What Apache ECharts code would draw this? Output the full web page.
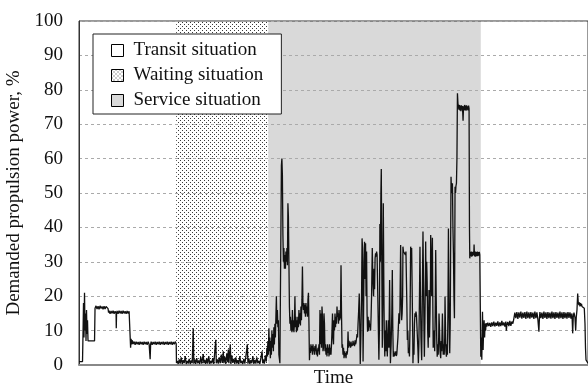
<!DOCTYPE html>
<html>
<head>
<meta charset="utf-8">
<script src="https://cdn.jsdelivr.net/npm/echarts@6.0.0/dist/echarts.min.js"></script>
<style>
  html, body { margin: 0; padding: 0; background: #fff; }
  #chart { width: 588px; height: 387px; }
</style>
</head>
<body>
<div id="chart"></div>
<script>
// time axis in arbitrary units (0 .. 508), power in %
const yTicks = [0, 10, 20, 30, 40, 50, 60, 70, 80, 90, 100];
const situationNames = ['Transit situation', 'Waiting situation', 'Service situation'];
const waitingSpan = [97, 189];
const serviceSpan = [189, 401];

const transitOut = [
  [0, 1], [3.5, 1], [4, 9], [4.5, 18], [5, 8], [5.5, 21], [6, 10], [6.5, 15], [7, 7], [7.5, 16],
  [8, 9], [8.5, 13], [9, 7], [12, 7], [15.5, 7], [16, 16.5],
  [17, 17.2], [18, 16.3], [19, 17.1], [20, 16.2], [21, 17.2], [22, 16.4], [23, 17], [24, 16.2],
  [25, 17.1], [26, 16.3], [27, 17], [28, 16.5], [29, 16.4],
  [29.5, 15.2], [30, 15.8], [31, 14.9], [32, 15.7], [33, 15], [34, 15.8], [35, 14.9], [36, 15.6],
  [37, 15], [37.2, 10.7], [37.5, 15.1], [38, 15.7], [39, 14.9], [40, 15.8], [41, 15], [42, 15.7],
  [43, 14.9], [44, 15.8], [45, 15], [46, 15.6], [47, 14.9], [48, 15.7], [49, 15], [50, 15.6], [51, 15.2],
  [51.5, 5], [52, 7.6], [52.5, 6], [53, 7.2], [54, 6.1], [55, 6.8], [56, 5.9], [57, 6.8], [58, 6],
  [59, 6.7], [60, 5.9], [61, 6.8], [62, 6], [63, 6.7], [64, 5.9], [65, 6.8], [66, 6], [67, 6.7],
  [68, 5.9], [69, 6.8], [70, 6], [71, 1.7], [71.5, 6.1], [72, 6.8], [73, 5.9], [74, 6.7], [75, 6],
  [76, 6.8], [77, 5.9], [78, 6.7], [79, 6], [80, 6.8], [81, 5.9], [82, 6.7], [83, 6], [84, 6.8],
  [85, 5.9], [86, 6.7], [87, 6], [88, 6.8], [89, 5.9], [90, 6.7], [91, 6], [92, 6.8], [93, 5.9],
  [94, 6.7], [95, 6], [96, 6.8], [97, 6.2]
];

const waiting = [
  [97.3, 0.6], [98, 1.2], [99, 0.3], [100, 1.6], [101, 0.4], [102, 2.2], [103, 0.3], [104, 1.4],
  [105, 0.5], [106, 2.6], [107, 0.3], [108, 1.2], [109, 0.4], [110, 1.8], [111, 0.3], [112, 1.3],
  [113, 0.5], [114, 10.7], [114.6, 0.4], [115.5, 1.6], [116.5, 0.3], [117.5, 2], [118.5, 0.5],
  [119.5, 1.3], [120.5, 0.3], [121.5, 2.4], [122.5, 0.4], [124, 3.2], [124.6, 0.5], [125.5, 1.5],
  [126.5, 0.3], [127.5, 1.9], [128.5, 0.4], [129.5, 2.6], [130.5, 0.3], [131.5, 1.2], [132.5, 0.5],
  [133.5, 2], [134.5, 0.3], [136.5, 7.3], [137, 0.5], [138, 1.6], [139, 0.4], [140, 2.2], [141, 0.5],
  [142, 3], [143, 0.6], [144, 4], [144.6, 0.5], [145.5, 2.4], [146.5, 0.3], [147.5, 3.4], [148.5, 0.8],
  [149, 4.5], [149.6, 0.5], [151, 6], [151.6, 0.3], [152.5, 2.8], [153.5, 0.6], [154.5, 1.8],
  [155.5, 0.3], [156.5, 2.2], [157.5, 0.4], [158.5, 1.4], [159.5, 0.3], [160.5, 2.6], [161.5, 0.5],
  [162.5, 1.2], [163.5, 0.3], [164.5, 1.8], [165.5, 0.4], [166.5, 2.4], [168, 6], [168.6, 0.4],
  [169.5, 1.9], [170.5, 0.3], [171.5, 1.4], [172.5, 0.5], [173.5, 2.6], [174.5, 0.3], [175.5, 1.5],
  [176.5, 0.4], [177.5, 2.2], [178.5, 0.5], [179.5, 1.2], [180.5, 0.3], [181.5, 2], [182.7, 4],
  [183.3, 0.5], [184, 1.6], [185, 0.4], [186, 2.8], [187, 1], [187.5, 5], [188, 2.5], [188.5, 7], [189, 3]
];

const service = [
  [189.5, 10.7], [190, 4], [190.5, 8], [191, 2], [191.5, 7], [192, 3], [192.5, 10], [193, 5], [193.5, 9],
  [194, 4], [194.5, 11], [195, 6], [195.5, 12], [196, 8], [197, 20], [197.5, 12], [198, 16], [198.5, 11],
  [199, 13], [199.5, 3], [200.5, 0.5], [201.5, 1], [202, 58], [202.5, 60], [203, 55], [203.5, 38],
  [204, 30], [204.5, 34], [205, 28], [205.5, 32], [206, 28], [206.5, 33], [207, 30], [207.5, 34],
  [208, 29], [208.5, 47], [209, 43], [209.5, 30], [210, 17], [210.5, 12], [211, 14], [211.5, 10],
  [212, 13], [212.5, 9.5], [213, 16], [213.5, 10], [214, 13], [214.5, 9.5], [215, 12], [215.5, 20],
  [216, 11], [216.5, 14], [217, 9.5], [217.5, 13], [218, 10], [218.5, 14], [219, 11], [219.5, 16],
  [220, 12], [220.5, 15], [221, 11.5], [221.5, 17], [222, 13], [222.5, 19], [223, 28.6], [223.5, 18],
  [224, 16], [224.5, 18], [225, 15], [225.5, 17.5], [226, 14], [226.5, 18], [227, 15], [227.5, 17],
  [228, 14], [228.5, 19], [229, 21], [229.5, 12], [230, 1.4], [230.5, 5], [231, 3.5], [231.5, 6],
  [232, 4], [232.5, 5.5], [233, 3], [233.5, 6], [234, 4], [234.5, 5], [235, 3], [235.5, 5.5], [236, 4],
  [236.5, 6], [237, 3], [237.5, 4.5], [238, 2.5], [238.5, 5], [239, 4], [239.5, 6], [240, 3],
  [240.5, 16], [241, 6], [241.5, 15], [242, 5], [242.5, 17], [243, 14], [243.5, 4], [244, 5],
  [244.5, 15], [245, 12], [245.5, 4], [246, 6], [246.5, 3], [247, 5], [247.5, 2.5], [248, 6],
  [248.5, 3.5], [249, 5], [249.5, 2.5], [250, 6], [250.5, 3], [251, 5], [251.5, 3], [252, 6],
  [252.5, 10], [253, 15], [253.5, 8], [254, 6], [254.5, 13], [255, 10], [255.5, 15], [256, 11],
  [256.5, 14], [257, 12], [257.5, 17], [258, 14], [258.5, 15], [259, 12], [259.5, 16], [260, 13],
  [261, 14], [261.5, 29], [262, 15], [262.5, 5], [263, 6], [263.5, 3], [264, 5], [264.5, 2], [265, 4],
  [265.5, 2.5], [266, 3.5], [266.5, 2], [267, 4], [267.5, 3], [268, 4], [268.5, 9.7], [269, 5],
  [269.5, 7], [270, 5.5], [270.5, 6.5], [271, 5], [271.5, 6.8], [272, 5.4], [272.5, 6.2], [273, 5.6],
  [273.5, 7], [274, 5.8], [274.5, 6.5], [275, 5.5], [275.5, 7.2], [276, 6], [276.5, 6.6], [277, 6.2],
  [277.5, 9], [278, 8], [278.5, 12], [279, 15], [279.7, 20.8], [280.2, 12], [280.7, 0.3], [281.3, 8],
  [282, 20], [282.5, 36.8], [283, 34], [283.5, 1], [284, 15], [284.5, 30], [285, 35.8], [285.5, 25],
  [286, 35.4], [286.5, 20], [287, 33], [287.5, 15], [288, 9.7], [288.5, 14], [289, 10], [289.5, 13],
  [290, 11], [290.5, 12], [291, 10], [291.5, 14], [292, 20], [292.7, 34], [293.3, 25], [294, 20],
  [294.5, 28], [295, 22], [295.5, 31], [296, 32.5], [296.5, 31.5], [297, 33], [297.5, 32], [298, 32.5],
  [298.5, 31.8], [299, 32.5], [299.3, 1.5], [299.8, 10], [300.3, 41], [300.8, 30], [301.3, 50],
  [301.7, 57], [302.2, 30], [302.7, 5], [303.2, 20], [303.7, 47], [304.2, 25], [304.7, 8], [305.2, 2.5],
  [305.7, 10], [306.2, 4], [306.7, 13], [307.2, 6], [307.7, 2.5], [308.2, 8], [308.7, 13], [309.3, 5],
  [310, 24.7], [310.5, 8], [310.8, 0.5], [311.5, 6], [312.2, 15], [312.7, 27.6], [313.2, 10],
  [313.7, 2.4], [314.2, 4], [314.7, 2.5], [315.2, 3.5], [315.7, 2.8], [316.2, 4], [316.7, 2.6],
  [317.2, 3.2], [317.7, 3], [318.3, 8], [319.3, 15], [319.8, 12], [320.3, 16], [321, 34.9], [321.5, 20],
  [322, 13], [322.5, 15], [323, 20], [323.3, 34.4], [323.8, 33], [324.3, 33.5], [324.8, 32.5],
  [325.3, 33], [325.8, 32], [326.3, 33], [326.7, 32.5], [327.2, 18], [327.7, 7.3], [328.2, 10],
  [328.7, 3.4], [329.3, 5], [329.8, 2.5], [330.3, 10], [331, 34.4], [331.5, 33], [332, 34], [332.7, 33.5],
  [333.1, 8], [333.3, 0.5], [333.8, 6], [334.3, 3], [334.8, 12], [335.3, 15], [335.8, 14], [336.3, 15.5],
  [336.8, 14.5], [337.3, 15], [337.7, 15], [338.2, 5], [338.7, 0.5], [339.2, 6], [339.8, 20],
  [340.3, 34.4], [340.8, 20], [341.3, 8], [342, 1.4], [342.5, 15], [343, 30], [343.3, 38.8], [343.8, 25],
  [344.3, 10], [344.7, 2.4], [345.2, 12], [345.7, 25], [346, 35.9], [346.5, 20], [347, 30], [347.5, 24],
  [348, 10], [348.5, 5], [349, 15], [349.3, 21.8], [349.8, 8], [350.3, 15], [350.8, 25], [351, 37.8],
  [351.5, 30], [352, 20], [352.7, 37], [353.2, 15], [353.5, 5], [354, 8], [354.5, 10], [355, 4],
  [355.5, 15], [356, 33.4], [356.5, 20], [357, 8], [357.5, 2.4], [358, 6], [358.5, 3], [359, 8],
  [359.3, 15], [359.8, 10], [360.3, 4], [361, 2], [361.5, 7], [362, 4], [362.7, 15], [363.2, 8],
  [363.5, 3], [364, 6], [364.5, 3], [365, 8], [365.3, 19.9], [365.8, 10], [366.2, 4], [366.7, 2.4],
  [367.2, 6], [367.7, 3], [368.2, 15], [368.7, 39.7], [369.2, 20], [369.7, 8], [370, 3.4], [370.5, 12],
  [371, 40], [371.3, 54.7], [371.8, 50], [372.3, 52], [372.7, 52.8], [373.2, 40], [373.7, 32.5],
  [374.2, 20], [374.7, 13.6], [375, 30], [375.3, 51.8], [375.8, 50], [376.2, 52], [376.7, 52.8],
  [377.2, 60], [377.7, 79], [378.2, 76], [378.7, 75.5], [379.2, 74.2], [379.7, 75.6], [380.2, 74],
  [380.7, 75.4], [381.2, 73.8], [381.7, 75.5], [382.2, 74.2], [382.7, 75.3], [383.3, 71], [383.8, 75.2],
  [384.3, 74], [384.8, 75.6], [385.3, 74.1], [385.8, 75.4], [386.3, 73.9], [386.8, 75.5], [387.3, 74.2],
  [387.8, 75.2], [388.3, 74], [388.8, 75.4], [389.3, 74.5], [389.7, 40], [390, 31], [390.5, 32.8],
  [391, 31.6], [391.5, 33], [392, 31.5], [392.5, 32.8], [393, 31.7], [393.5, 33], [394, 32], [394.3, 35],
  [394.6, 32.5], [395, 31.6], [395.5, 33], [396, 31.5], [396.5, 32.8], [397, 31.7], [397.5, 33],
  [398, 31.6], [398.5, 32.8], [399, 31.8], [399.5, 32.9], [400, 32], [400.5, 32.5], [401, 2.4]
];

const transitBack = [
  [401.5, 8], [402, 1.5], [402.7, 15.5], [403.3, 4.4], [403.8, 10], [404.3, 13], [404.8, 8], [405.3, 12],
  [405.8, 10], [406.3, 12.2], [407, 11.2], [408, 12.3], [409, 11.3], [410, 12.2], [411, 11.1], [412, 12.4],
  [413, 11.3], [414, 12.6], [415, 11.2], [416, 12.3], [417, 11.4], [418, 12.7], [419, 11.2], [420, 12.4],
  [421, 11.3], [422, 12.8], [423, 11.5], [424, 12.4], [425, 11.2], [426, 12.6], [426.5, 10], [427, 11.6],
  [428, 12.5], [429, 11.3], [430, 12.8], [431, 11.4], [432, 12.6], [433, 12], [434, 13.5], [435, 15.2],
  [436, 13.6], [437, 15.4], [438, 13.4], [439, 15.3], [440, 13.8], [441, 15.5], [442, 13.5], [443, 15.2],
  [444, 13.7], [445, 15.4], [446, 13.4], [447, 15.5], [448, 13.6], [449, 15.3], [450, 13.5], [451, 15.4],
  [452, 13.8], [453, 15.2], [454, 13.4], [455, 15.5], [456, 13.6], [457, 15.3], [458, 13.2], [459, 9.7],
  [459.5, 13.5], [460, 15.4], [461, 13.6], [462, 15.2], [463, 13.4], [464, 15.5], [465, 13.7], [466, 15.3],
  [467, 13.4], [468, 15.4], [469, 13.6], [470, 15.2], [471, 13.5], [472, 15.5], [473, 13.6], [474, 15.3],
  [475, 13.4], [476, 15.4], [477, 13.7], [478, 15.2], [479, 13.5], [480, 15.5], [481, 13.6], [482, 15.3],
  [483, 13.4], [484, 15.4], [485, 13.6], [486, 15.2], [487, 13.5], [488, 15.4], [489, 13.7], [490, 15.3],
  [491, 13.5], [492, 15], [492.7, 9.2], [493.3, 14], [494, 15.2], [495, 13.8], [495.7, 10], [496.3, 14],
  [497, 16], [497.7, 20.8], [498.3, 18], [499, 17.4], [499.5, 18.2], [500, 17], [500.5, 18], [501, 17.2],
  [501.5, 17.8], [502, 17], [502.7, 17.4], [503.5, 16.5], [504.3, 16.5], [505, 12], [505.5, 5],
  [506, 1.5], [507, 1], [508, 0.5]
];

const FONT = 'Liberation Serif';

// small dotted tile for the waiting area
function makeDots() {
  const c = document.createElement('canvas');
  c.width = 4;
  c.height = 4;
  const ctx = c.getContext('2d');
  ctx.fillStyle = '#ffffff';
  ctx.fillRect(0, 0, 4, 4);
  ctx.fillStyle = '#3a3a3a';
  ctx.fillRect(0, 0, 1, 1);
  ctx.fillRect(2, 2, 1, 1);
  return c;
}
const dots = { image: makeDots(), repeat: 'repeat' };
const areaColors = ['#ffffff', dots, '#d9d9d9'];

const chart = echarts.init(document.getElementById('chart'), null, { renderer: 'canvas' });

const power = transitOut.concat(waiting, service, transitBack);

const option = {
  animation: false,
  backgroundColor: '#ffffff',
  textStyle: { fontFamily: FONT },
  grid: {
    left: 79,
    right: 0,
    top: 21,
    bottom: 22,
    outerBoundsMode: 'none',
    show: true,
    z: 2,
    borderColor: '#333',
    borderWidth: 1,
    backgroundColor: 'transparent'
  },
  legend: {
    data: situationNames,
    orient: 'vertical',
    left: 93,
    top: 34,
    padding: [7, 18, 4, 18],
    itemGap: 6,
    itemWidth: 12,
    itemHeight: 12,
    icon: 'rect',
    backgroundColor: '#ffffff',
    borderColor: '#222',
    borderWidth: 1,
    itemStyle: { borderColor: '#000', borderWidth: 1 },
    textStyle: { fontFamily: FONT, fontSize: 19, color: '#111', padding: [0, 0, 0, 5] }
  },
  xAxis: {
    type: 'value',
    min: 0,
    max: 508,
    z: 2,
    name: 'Time',
    nameLocation: 'middle',
    nameGap: 4,
    nameTextStyle: { fontFamily: FONT, fontSize: 19, color: '#111', verticalAlign: 'top' },
    axisLine: { show: true, lineStyle: { color: '#888', width: 2 } },
    axisTick: { show: false },
    axisLabel: { show: false },
    splitLine: { show: false }
  },
  yAxis: {
    type: 'value',
    min: yTicks[0],
    max: yTicks[yTicks.length - 1],
    interval: 10,
    z: 2,
    name: 'Demanded propulsion power, %',
    nameLocation: 'middle',
    nameGap: 52,
    nameTextStyle: { fontFamily: FONT, fontSize: 19, color: '#111' },
    axisLine: { show: true, lineStyle: { color: '#333', width: 1 } },
    axisTick: { show: false },
    axisLabel: { fontFamily: FONT, fontSize: 19, color: '#111', margin: 16 },
    splitLine: { show: true, lineStyle: { color: '#aaa', type: [3, 3], width: 1 } }
  },
  series: [
    {
      name: 'Power',
      type: 'line',
      z: 3,
      data: power,
      showSymbol: false,
      symbol: 'none',
      lineStyle: { color: '#111', width: 1.3 },
      markArea: {
        silent: true,
        z: 1,
        label: { show: false },
        data: [
          [{ xAxis: waitingSpan[0], itemStyle: { color: areaColors[1] } }, { xAxis: waitingSpan[1] }],
          [{ xAxis: serviceSpan[0], itemStyle: { color: areaColors[2] } }, { xAxis: serviceSpan[1] }]
        ]
      }
    }
  ].concat(situationNames.map((n, i) => ({
    name: n,
    type: 'bar',
    data: [],
    itemStyle: { color: areaColors[i] }
  })))
};

chart.setOption(option);
</script>
</body>
</html>
